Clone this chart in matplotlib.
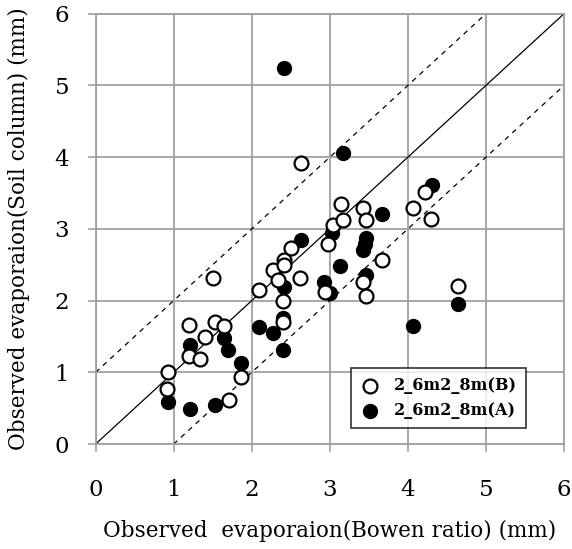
import matplotlib
matplotlib.use("Agg")
import matplotlib.pyplot as plt

plt.rcParams['font.family'] = ['DejaVu Serif']

# 2_6m2_8m(B) - open circles
b_x = [0.93, 0.92, 1.20, 1.20, 1.34, 1.40, 1.51, 1.53, 1.65, 1.71, 1.86,
       2.10, 2.27, 2.34, 2.41, 2.41, 2.40, 2.40, 2.50, 2.62, 2.63, 2.94,
       2.98, 3.04, 3.14, 3.17, 3.43, 3.47, 3.67, 3.42, 3.46, 4.06, 4.22,
       4.30, 4.64]
b_y = [1.00, 0.77, 1.66, 1.23, 1.18, 1.50, 2.32, 1.70, 1.65, 0.61, 0.94,
       2.15, 2.43, 2.29, 2.56, 2.50, 2.00, 1.70, 2.74, 2.31, 3.92, 2.12,
       2.79, 3.05, 3.35, 3.12, 3.29, 3.13, 2.57, 2.26, 2.07, 3.29, 3.52,
       3.14, 2.20]

# 2_6m2_8m(A) - filled circles
a_x = [0.93, 1.21, 1.53, 1.21, 1.65, 1.70, 1.86, 2.10, 2.27, 2.40, 2.40,
       2.41, 2.41, 2.63, 2.93, 3.00, 3.03, 3.13, 3.17, 3.47, 3.45, 3.43,
       3.47, 3.67, 4.06, 4.31, 4.64]
a_y = [0.59, 0.49, 0.55, 1.38, 1.48, 1.31, 1.13, 1.63, 1.55, 1.31, 1.76,
       2.19, 5.25, 2.85, 2.26, 2.10, 2.95, 2.49, 4.06, 2.87, 2.79, 2.71,
       2.36, 3.21, 1.65, 3.61, 1.95]

ticks = [0, 1, 2, 3, 4, 5, 6]

fig = plt.figure(figsize=(5.72, 5.49), dpi=100)
ax = fig.add_axes([0.167, 0.191, 0.819, 0.784])

# reference lines: 1:1 and +/- 1 mm
ax.plot([0, 6], [0, 6], color='black', lw=0.9, zorder=2)
ax.plot([0, 5], [1, 6], color='black', lw=0.9, ls=(0, (4, 4)), zorder=2)
ax.plot([1, 6], [0, 5], color='black', lw=0.9, ls=(0, (4, 4)), zorder=2)

ax.scatter(b_x, b_y, s=100, facecolors='white', edgecolors='black',
           linewidths=1.6, zorder=4, label='2_6m2_8m(B)')
ax.scatter(a_x, a_y, s=100, facecolors='black', edgecolors='black',
           linewidths=1.0, zorder=3, label='2_6m2_8m(A)')

ax.set_xlim(0, 6)
ax.set_ylim(0, 6)
ax.set_xticks(ticks)
ax.set_yticks(ticks)
ax.grid(True, color='#a0a0a0', lw=1.3)
ax.set_axisbelow(True)
for s in ax.spines.values():
    s.set_color('#a0a0a0')
    s.set_linewidth(1.3)
ax.tick_params(axis='y', direction='out', length=6, width=1.2, color='#a0a0a0',
               labelsize=16.5, pad=13)
ax.tick_params(axis='x', direction='out', length=6, width=1.2, color='#a0a0a0',
               labelsize=16.5, pad=19)

ax.set_xlabel('Observed  evaporaion(Bowen ratio) (mm)', fontsize=15.5, labelpad=14)
ax.set_ylabel('Observed evaporaion(Soil column) (mm)', fontsize=15.5, labelpad=18)

leg = ax.legend(loc='lower right', bbox_to_anchor=(0.918, 0.038),
                frameon=True, fancybox=False, edgecolor='black',
                handletextpad=0.9, handlelength=1.2, borderpad=0.55,
                labelspacing=0.5, borderaxespad=0,
                prop={'size': 11.5, 'weight': 'bold'}, scatterpoints=1)
leg.get_frame().set_linewidth(1.2)

fig.savefig('out.png', dpi=100)
